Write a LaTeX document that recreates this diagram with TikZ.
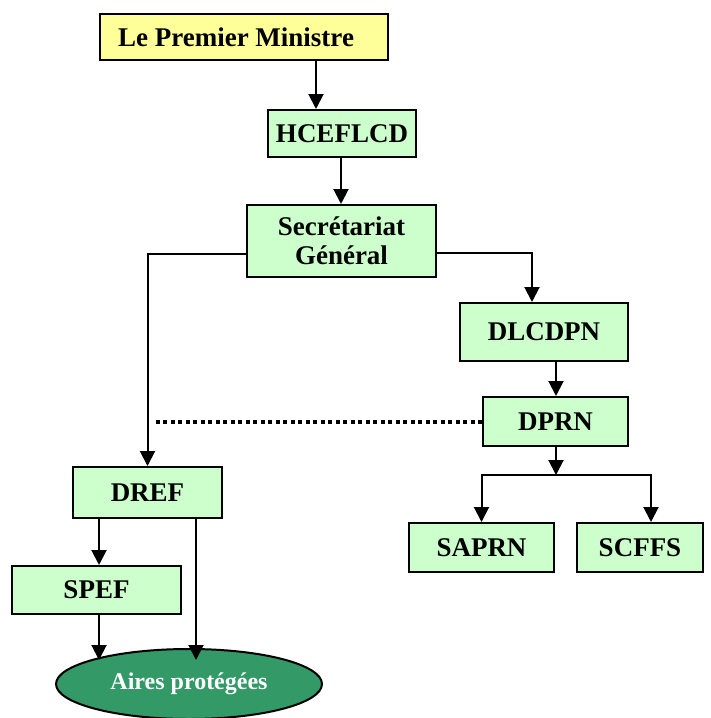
\documentclass[tikz,border=0pt]{standalone}
\usepackage{fontspec}
\setmainfont{Liberation Serif}
\usetikzlibrary{arrows.meta,shapes.geometric}
\definecolor{boxgreen}{HTML}{CCFFCC}
\definecolor{boxyellow}{HTML}{FFFF99}
\definecolor{ellgreen}{HTML}{339966}
\begin{document}
\begin{tikzpicture}[x=1pt,y=-1pt,
  box/.style={draw=black, line width=2pt, fill=boxgreen, inner sep=0pt,
    font=\fontsize{27}{29}\selectfont\bfseries, align=center},
  arr/.style={line width=2pt, -{Triangle[length=15pt,width=15pt]}},
  conn/.style={line width=2pt},
  dotconn/.style={line width=4pt, dash pattern=on 4pt off 3.5pt}]
\useasboundingbox (0,0) rectangle (711,718);
\node[box, fill=boxyellow, minimum width=288pt, minimum height=46pt] (pm) at (244,37) {Le Premier Ministre\hspace*{16pt}};
\node[box, minimum width=148pt, minimum height=47pt] (hc) at (342,133.5) {HCEFLCD};
\node[box, minimum width=189pt, minimum height=72pt] (sg) at (341.5,241) {Secrétariat\\Général};
\node[box, minimum width=168pt, minimum height=58pt] (dl) at (544,332) {DLCDPN};
\node[box, minimum width=145pt, minimum height=49pt] (dp) at (555.5,421.5) {DPRN};
\node[box, minimum width=145pt, minimum height=49pt] (sa) at (481.5,547.5) {SAPRN};
\node[box, minimum width=126pt, minimum height=49pt] (sc) at (640,547.5) {SCFFS};
\node[box, minimum width=149pt, minimum height=51pt] (dr) at (147.5,492.5) {DREF};
\node[box, minimum width=169pt, minimum height=48pt] (sp) at (96.5,590) {SPEF};
\node[ellipse, draw=black, line width=2pt, fill=ellgreen, text=white, inner sep=0pt,
  minimum width=266pt, minimum height=70pt, font=\fontsize{24}{26}\selectfont\bfseries] (ell) at (189,684) {Aires protégées};
\coordinate (x1) at (316,0);
\coordinate (x2) at (341,0);
\coordinate (x3) at (532,0);
\coordinate (x4) at (556,0);
\coordinate (x6) at (651,0);
\coordinate (x7) at (99,0);
\coordinate (x8) at (196,0);
\coordinate (yend) at (0,660);
\coordinate (split) at (556,475);
\draw[arr] (pm.south -| x1) -- (hc.north -| x1);
\draw[arr] (hc.south -| x2) -- (sg.north -| x2);
\draw[arr] ([yshift=-13pt]sg.west) -| (dr.north);
\draw[arr] ([yshift=-12pt]sg.east) -| (x3 |- dl.north);
\draw[arr] (dl.south -| x4) -- (dp.north -| x4);
\draw[dotconn] (dp.west) -- ([xshift=5pt]dr.north |- dp.west);
\draw[arr] (dp.south -| x4) -- (split);
\draw[arr] (split) -| (sa.north);
\draw[arr] (split) -| (x6 |- sc.north);
\draw[arr] (dr.south -| x7) -- (sp.north -| x7);
\draw[arr] (sp.south -| x7) -- (x7 |- yend);
\draw[arr] (dr.south -| x8) -- (x8 |- yend);
\end{tikzpicture}
\end{document}
